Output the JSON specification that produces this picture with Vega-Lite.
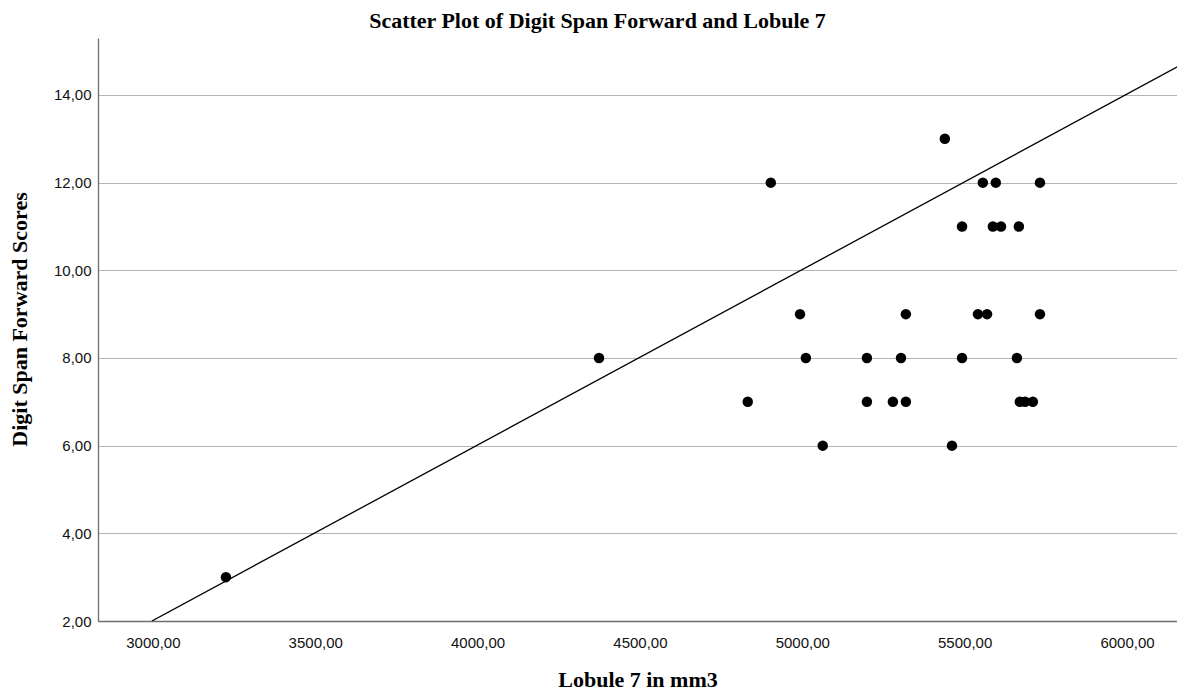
{
  "$schema": "https://vega.github.io/schema/vega-lite/v6.json",
  "width": 1079,
  "height": 583,
  "autosize": {"type": "none"},
  "padding": {"left": 98, "top": 38, "right": 0, "bottom": 70},
  "title": {
    "text": "Scatter Plot of Digit Span Forward and Lobule 7",
    "font": "Liberation Serif",
    "fontSize": 22,
    "fontWeight": "bold",
    "color": "black",
    "anchor": "middle",
    "dx": -40,
    "dy": 21,
    "offset": 9,
    "baseline": "alphabetic"
  },
  "datasets": {
    "points": [
      {"lobule7": 3225, "dsf": 3},
      {"lobule7": 4374, "dsf": 8},
      {"lobule7": 5011, "dsf": 8},
      {"lobule7": 5199, "dsf": 8},
      {"lobule7": 5304, "dsf": 8},
      {"lobule7": 5492, "dsf": 8},
      {"lobule7": 5661, "dsf": 8},
      {"lobule7": 4832, "dsf": 7},
      {"lobule7": 5199, "dsf": 7},
      {"lobule7": 5279, "dsf": 7},
      {"lobule7": 5319, "dsf": 7},
      {"lobule7": 5670, "dsf": 7},
      {"lobule7": 5686, "dsf": 7},
      {"lobule7": 5710, "dsf": 7},
      {"lobule7": 4903, "dsf": 12},
      {"lobule7": 5556, "dsf": 12},
      {"lobule7": 5596, "dsf": 12},
      {"lobule7": 5732, "dsf": 12},
      {"lobule7": 4993, "dsf": 9},
      {"lobule7": 5319, "dsf": 9},
      {"lobule7": 5541, "dsf": 9},
      {"lobule7": 5569, "dsf": 9},
      {"lobule7": 5732, "dsf": 9},
      {"lobule7": 5063, "dsf": 6},
      {"lobule7": 5461, "dsf": 6},
      {"lobule7": 5439, "dsf": 13},
      {"lobule7": 5492, "dsf": 11},
      {"lobule7": 5587, "dsf": 11},
      {"lobule7": 5612, "dsf": 11},
      {"lobule7": 5667, "dsf": 11}
    ],
    "refline": [
      {"lobule7": 2997, "dsf": 2},
      {"lobule7": 6160, "dsf": 14.66}
    ]
  },
  "layer": [
    {
      "data": {"name": "refline"},
      "mark": {"type": "line", "color": "black", "strokeWidth": 1.3, "clip": true},
      "encoding": {
        "x": {"field": "lobule7", "type": "quantitative"},
        "y": {"field": "dsf", "type": "quantitative"}
      }
    },
    {
      "data": {"name": "points"},
      "mark": {"type": "circle", "color": "black", "opacity": 1, "size": 110},
      "encoding": {
        "x": {
          "field": "lobule7",
          "type": "quantitative",
          "scale": {"domain": [2831, 6154], "nice": false, "zero": false},
          "axis": {
            "title": "Lobule 7 in mm3",
            "values": [3000, 3500, 4000, 4500, 5000, 5500, 6000],
            "labelExpr": "replace(format(datum.value, '.2f'), '.', ',')",
            "grid": false,
            "ticks": false,
            "labelPadding": 14,
            "titlePadding": 19
          }
        },
        "y": {
          "field": "dsf",
          "type": "quantitative",
          "scale": {"domain": [2, 15.3], "nice": false, "zero": false},
          "axis": {
            "title": "Digit Span Forward Scores",
            "values": [2, 4, 6, 8, 10, 12, 14],
            "labelExpr": "replace(format(datum.value, '.2f'), '.', ',')",
            "grid": true,
            "ticks": false,
            "labelPadding": 7,
            "titlePadding": 22,
            "titleY": 281
          }
        }
      }
    }
  ],
  "config": {
    "view": {"stroke": null},
    "axis": {
      "labelFont": "Liberation Sans",
      "labelFontSize": 15,
      "labelColor": "#111",
      "titleFont": "Liberation Serif",
      "titleFontSize": 22,
      "titleFontWeight": "bold",
      "titleColor": "black",
      "domainColor": "#6e6e6e",
      "domainWidth": 1.3,
      "gridColor": "#b4b4b4",
      "gridWidth": 1.2
    }
  }
}
